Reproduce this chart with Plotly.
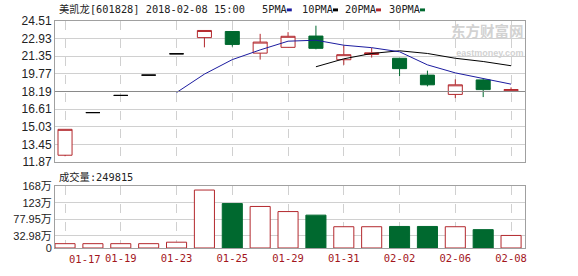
import plotly.graph_objects as go
from plotly.subplots import make_subplots

# ---------------- data ----------------
dates = ["01-17", "01-18", "01-19", "01-22", "01-23", "01-24", "01-25", "01-26", "01-29",
         "01-30", "01-31", "02-01", "02-02", "02-05", "02-06", "02-07", "02-08"]
open_p = [12.48, 16.30, 17.84, 19.66, 21.57, 23.02, 23.57, 21.63, 22.15,
          23.16, 21.04, 21.51, 21.17, 19.66, 17.93, 19.23, 18.27]
high_p = [14.80, 16.30, 17.84, 19.66, 21.57, 23.66, 23.57, 23.36, 23.51,
          24.09, 22.32, 22.10, 21.17, 20.06, 19.28, 19.30, 18.56]
low_p = [12.39, 16.30, 17.84, 19.66, 21.57, 22.15, 22.21, 21.05, 22.15,
         21.97, 20.58, 21.23, 19.58, 18.65, 17.60, 17.69, 18.27]
close_p = [14.80, 16.30, 17.84, 19.66, 21.57, 23.66, 22.41, 22.62, 23.14,
           22.06, 21.49, 21.66, 20.24, 18.79, 18.79, 18.36, 18.36]
ma5 = [None, None, None, None, 18.10, 19.75, 21.05, 21.92, 22.70,
       22.79, 22.34, 22.12, 21.75, 20.58, 19.86, 19.37, 18.85]
ma10 = [None] * 9 + [20.41, 21.12, 21.60, 21.84, 21.60, 21.17, 20.88, 20.50]
volume_wan = [11.8, 11.8, 11.8, 11.8, 15.8, 157.5, 120.8, 112.9, 99.0,
              89.3, 57.8, 57.8, 58.5, 58.5, 57.8, 49.9, 34.1]
price_ticks = [11.87, 13.45, 15.03, 16.61, 18.19, 19.77, 21.35, 22.93, 24.51]
vol_ticks = [0, 32.98, 77.95, 123, 168]
vol_tick_text = ["0", "32.98万", "77.95万", "123万", "168万"]
x_tick_dates = ["01-17", "01-19", "01-23", "01-25", "01-29", "01-31", "02-02", "02-06", "02-08"]
title_text = "美凯龙[601828] 2018-02-08 15:00"
vol_text = "成交量:249815"
legend_names = ["5PMA", "10PMA", "20PMA", "30PMA"]

RED = "#b3282d"
GREEN = "#00692f"
BLUE = "#1c1ca0"
GRID = "#d0d0d0"
BORDER = "#a0a0a0"
TICKRED = "#a3161c"

fig = make_subplots(rows=2, cols=1, shared_xaxes=True, vertical_spacing=0.0,
                    row_heights=[0.62, 0.38])

up_idx = [i for i in range(len(dates)) if close_p[i] > open_p[i]]
dn_idx = [i for i in range(len(dates)) if close_p[i] < open_p[i]]
fl_idx = [i for i in range(len(dates)) if close_p[i] == open_p[i]]


def sub(arr, idx):
    return [arr[i] for i in idx]


for idx, line_c, fill_c in [(up_idx, RED, "white"), (dn_idx, GREEN, GREEN), (fl_idx, "black", "black")]:
    fig.add_trace(go.Candlestick(
        x=sub(dates, idx), open=sub(open_p, idx), high=sub(high_p, idx),
        low=sub(low_p, idx), close=sub(close_p, idx),
        increasing=dict(line=dict(color=line_c, width=1), fillcolor=fill_c),
        decreasing=dict(line=dict(color=line_c, width=1), fillcolor=fill_c),
        whiskerwidth=0, showlegend=False, hoverinfo="skip"), row=1, col=1)

fig.add_trace(go.Scatter(x=dates, y=ma10, mode="lines", line=dict(color="black", width=1),
                         showlegend=False, hoverinfo="skip"), row=1, col=1)
fig.add_trace(go.Scatter(x=dates, y=ma5, mode="lines", line=dict(color=BLUE, width=1),
                         showlegend=False, hoverinfo="skip"), row=1, col=1)

vol_fill = ["white" if close_p[i] >= open_p[i] else GREEN for i in range(len(dates))]
vol_line = [RED if close_p[i] >= open_p[i] else GREEN for i in range(len(dates))]
fig.add_trace(go.Bar(x=dates, y=volume_wan, width=0.72,
                     marker=dict(color=vol_fill, line=dict(color=vol_line, width=1)),
                     showlegend=False, hoverinfo="skip"), row=2, col=1)

L, R, T, B = 55, 53, 21, 20
W, H = 578, 276
PW, PH = W - L - R, H - T - B


def px(x):
    return (x - L) / PW


def py(y):
    return (H - B - y) / PH


price_dom = [py(167), 1.0]
vol_dom = [0.0, py(192)]

fig.update_layout(
    width=W, height=H, margin=dict(l=L, r=R, t=T, b=B),
    paper_bgcolor="white", plot_bgcolor="white", boxgap=0.28,
    bargap=0.28,
    font=dict(family="Liberation Sans, Arial, Noto Sans CJK SC", size=12, color="#222"),
    yaxis=dict(domain=price_dom),
    yaxis2=dict(domain=vol_dom),
)

mono = "DejaVu Sans Mono, Noto Sans CJK SC, monospace"

common_x = dict(type="category", categoryorder="array", categoryarray=dates,
                range=[-0.36, 16.5], tickmode="array", tickvals=x_tick_dates,
                showgrid=True, gridcolor=GRID, griddash="dash", gridwidth=1,
                showline=True, linecolor=BORDER, mirror=True, ticks="",
                rangeslider=dict(visible=False), fixedrange=True)
fig.update_xaxes(**common_x)
fig.update_xaxes(showticklabels=False, row=1, col=1)
# first label is drawn separately (nudged right of the y labels, as in the reference)
fig.update_xaxes(showticklabels=True, ticktext=[""] + x_tick_dates[1:],
                 tickfont=dict(family=mono, size=10.5, color=TICKRED),
                 row=2, col=1)
fig.add_annotation(text=x_tick_dates[0], xref="paper", yref="paper", x=px(66.5), y=py(267),
                   xanchor="left", yanchor="middle", showarrow=False,
                   font=dict(family=mono, size=10.5, color=TICKRED))

fig.update_yaxes(range=[price_ticks[0], price_ticks[-1]], tickmode="array", tickvals=price_ticks,
                 ticktext=[f"{v:.2f}" for v in price_ticks], showgrid=True, gridcolor=GRID,
                 showline=True, linecolor=BORDER, mirror=True, ticks="", zeroline=False,
                 tickfont=dict(size=12, color="#222"), row=1, col=1)
fig.update_yaxes(range=[vol_ticks[0], vol_ticks[-1]], tickmode="array", tickvals=vol_ticks,
                 ticktext=vol_tick_text, showgrid=True, gridcolor=GRID,
                 showline=True, linecolor=BORDER, mirror=True, ticks="", zeroline=False,
                 tickfont=dict(size=11, color="#222"), row=2, col=1)

# darker reference line at the previous-close level
fig.add_shape(type="line", xref="x domain", yref="y", x0=0, x1=1,
              y0=price_ticks[4], y1=price_ticks[4], line=dict(color="#8a8a8a", width=1))

fig.add_annotation(text=title_text, xref="paper", yref="paper", x=px(57), y=py(9),
                   xanchor="left", yanchor="middle", showarrow=False,
                   font=dict(family=mono, size=10.3, color="#222"))
fig.add_annotation(text=vol_text, xref="paper", yref="paper", x=px(57), y=py(183),
                   xanchor="left", yanchor="middle", showarrow=False,
                   font=dict(family=mono, size=10.3, color="#222"))

legend_x = [260, 300, 343, 387]
legend_c = [BLUE, "black", RED, GREEN]
for name, lx, c in zip(legend_names, legend_x, legend_c):
    fig.add_annotation(text=name, xref="paper", yref="paper", x=px(lx), y=py(9),
                       xanchor="left", yanchor="middle", showarrow=False,
                       font=dict(family=mono, size=10.3, color="#222"))
    mx = lx + 6.2 * len(name) + 2
    fig.add_shape(type="rect", xref="paper", yref="paper", x0=px(mx), x1=px(mx + 5),
                  y0=py(11), y1=py(8), fillcolor=c, line=dict(width=0))

# watermark (one text block)
fig.add_annotation(text="<b>东方财富网</b><br><span style='font-size:9px;font-family:Liberation Sans'><b>eastmoney.com</b></span>",
                   xref="paper", yref="paper", x=px(526), y=py(18),
                   xanchor="right", yanchor="top", align="right", showarrow=False,
                   font=dict(family="Noto Sans CJK SC", size=14.5, color="#d2d2d2"))

fig.write_html("out.html")
